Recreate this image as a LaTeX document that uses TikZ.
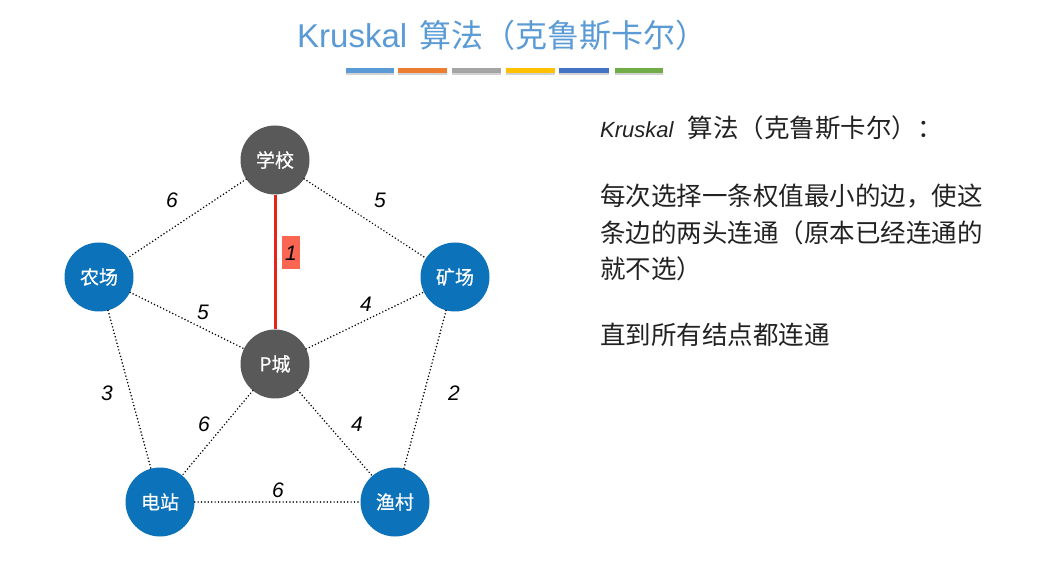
\documentclass[tikz,border=0pt]{standalone}
\usepackage{fontspec}
\setmainfont{Liberation Sans}
\newfontfamily\cjk{Noto Sans CJK SC}
\newfontfamily\cjkmed[FakeBold=0.6]{Noto Sans CJK SC}
\usetikzlibrary{shadows}
\definecolor{titleblue}{HTML}{5B9BD5}
\definecolor{barA}{HTML}{5B9BD5}
\definecolor{barB}{HTML}{ED7D31}
\definecolor{barC}{HTML}{A5A5A5}
\definecolor{barD}{HTML}{FFC000}
\definecolor{barE}{HTML}{4472C4}
\definecolor{barF}{HTML}{70AD47}
\definecolor{nodeblue}{HTML}{0C72B9}
\definecolor{nodegrey}{HTML}{595959}
\definecolor{redline}{HTML}{E8231A}
\definecolor{redbox}{HTML}{FA6652}
\definecolor{bodytext}{HTML}{222222}
\tikzset{
  vert/.style={circle, minimum size=69pt, inner sep=0pt, text=white,
    font=\cjkmed\fontsize{19}{21}\selectfont},
  bluev/.style={vert, fill=nodeblue},
  greyv/.style={vert, fill=nodegrey},
  edge/.style={line width=1.7pt, dash pattern=on 0pt off 3.4pt, line cap=round, black},
  chosen/.style={line width=3pt, redline},
  wlabel/.style={font=\itshape\fontsize{21}{24}\selectfont, text=black, inner sep=1pt},
  bar/.style={drop shadow={shadow xshift=0pt, shadow yshift=-2pt, opacity=0.35}},
  bodyline/.style={anchor=west, inner sep=0pt, text=bodytext, font=\cjk\fontsize{25.5}{30}\selectfont}
}
\begin{document}
\begin{tikzpicture}[x=1pt,y=-1pt]
\useasboundingbox[fill=white] (0,0) rectangle (1045,569);

% title
\node[anchor=west, inner sep=0pt, text=titleblue] (title) at (297,35)
  {\fontsize{33}{38}\selectfont Kruskal\hspace{12pt}{\cjk\fontsize{32}{38}\selectfont 算法（克鲁斯卡尔）}};

% colour bars
\fill[barA, bar] (346,68) rectangle (394,73);
\fill[barB, bar] (398,68) rectangle (447,73);
\fill[barC, bar] (452,68) rectangle (501,73);
\fill[barD, bar] (506,68) rectangle (555,73);
\fill[barE, bar] (559,68) rectangle (609,73);
\fill[barF, bar] (615,68) rectangle (663,73);

% vertices
\node[greyv] (school) at (275,160) {学校};
\node[bluev] (farm) at (99,277) {农场};
\node[bluev] (mine) at (455,277) {矿场};
\node[greyv] (pcity) at (275,364) {P城};
\node[bluev] (power) at (160,502) {电站};
\node[bluev] (fish) at (395,502) {渔村};

% edges
\draw[edge] (school) -- (farm);
\draw[edge] (school) -- (mine);
\draw[edge] (farm) -- (pcity);
\draw[edge] (pcity) -- (mine);
\draw[edge] (farm) -- (power);
\draw[edge] (mine) -- (fish);
\draw[edge] (pcity) -- (power);
\draw[edge] (pcity) -- (fish);
\draw[edge] (power) -- (fish);
\draw[chosen] (school) -- (pcity);

% weights
\node[wlabel] (w1) at (172,200) {6};
\node[wlabel] (w2) at (380,200) {5};
\node[wlabel, fill=redbox, minimum width=18pt, minimum height=33pt] (w3) at (291,253) {1};
\node[wlabel] (w4) at (203,312) {5};
\node[wlabel] (w5) at (366,304) {4};
\node[wlabel] (w6) at (107,393) {3};
\node[wlabel] (w7) at (454,393) {2};
\node[wlabel] (w8) at (204,424) {6};
\node[wlabel] (w9) at (357,424) {4};
\node[wlabel] (w10) at (278,490) {6};

% right-hand text
\node[bodyline] (t1) at (600,128)
  {{\fontspec{Liberation Sans}\itshape\fontsize{22}{26}\selectfont Kruskal}\hspace{14pt}算法（克鲁斯卡尔）：};
\node[bodyline] (t2) at (600,196) {每次选择一条权值最小的边，使这};
\node[bodyline] (t3) at (600,233) {条边的两头连通（原本已经连通的};
\node[bodyline] (t4) at (600,269) {就不选）};
\node[bodyline] (t5) at (600,335) {直到所有结点都连通};
\end{tikzpicture}
\end{document}
